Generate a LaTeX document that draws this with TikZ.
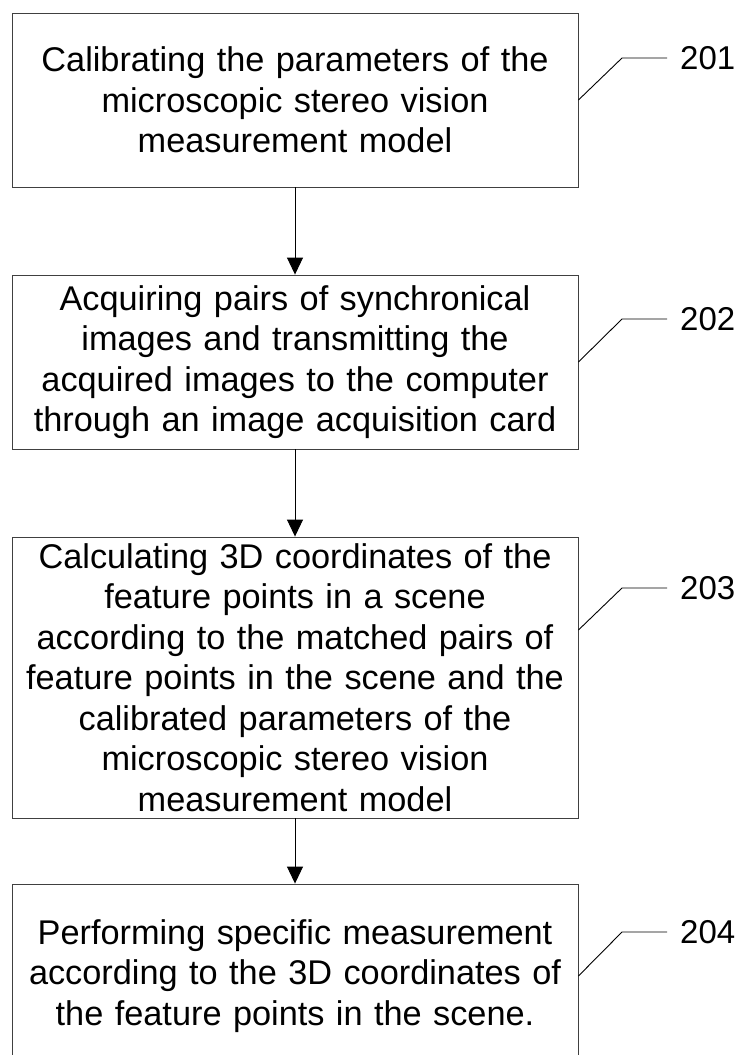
\documentclass[tikz,border=0pt]{standalone}
\usepackage{fontspec}
\setmainfont{Liberation Sans}
\usetikzlibrary{arrows.meta}

\begin{document}
\begin{tikzpicture}[x=1pt,y=-1pt,
	box/.style={draw=black!75, line width=0.9pt, minimum width=566pt,
		inner sep=0pt, text width=566pt, align=center,
		font=\fontsize{34.3}{40.5}\selectfont},
	num/.style={anchor=west, inner xsep=13pt, inner ysep=0pt,
		font=\fontsize{33}{38}\selectfont},
	lead/.style={line width=0.9pt},
	flow/.style={line width=0.9pt, -{Triangle[length=17pt,width=16pt]}}]
	\useasboundingbox (0,0) rectangle (740,1055);
	
	\node[box, minimum height=174pt] (s1) at (295,100)
		{Calibrating the parameters of the\\ microscopic stereo vision\\ measurement model};
	\node[box, minimum height=174pt] (s2) at (295,362)
		{Acquiring pairs of synchronical\\ images and transmitting the\\ acquired images to the computer\\ through an image acquisition card};
	\node[box, minimum height=281pt] (s3) at (295,677.5)
		{Calculating 3D coordinates of the\\ feature points in a scene\\ according to the matched pairs of\\ feature points in the scene and the\\ calibrated parameters of the\\ microscopic stereo vision\\ measurement model};
	\node[box, minimum height=184pt] (s4) at (295,976)
		{Performing specific measurement\\ according to the 3D coordinates of\\ the feature points in the scene.};
	
	\node[num] (n1) at (667,58) {201};
	\node[num] (n2) at (667,319) {202};
	\node[num] (n3) at (667,588) {203};
	\node[num] (n4) at (667,932) {204};
	
	\coordinate (k1) at (622,58);
	\coordinate (k2) at (622,319);
	\coordinate (k3) at (622,588);
	\coordinate (k4) at (622,932);
	
	\draw[lead] (s1.east) -- (k1) -- (n1.west);
	\draw[lead] (s2.east) -- (k2) -- (n2.west);
	\draw[lead] ([yshift=47.5pt]s3.east) -- (k3) -- (n3.west);
	\draw[lead] (s4.east) -- (k4) -- (n4.west);
	
	\draw[flow] (s1) -- (s2);
	\draw[flow] (s2) -- (s3);
	\draw[flow] (s3) -- (s4);
	
\end{tikzpicture}
\end{document}
